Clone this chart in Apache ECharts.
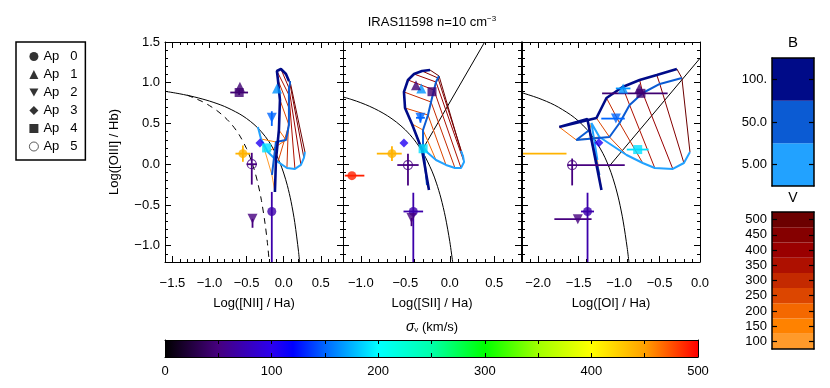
<!DOCTYPE html>
<html>
<head>
<meta charset="utf-8">
<title>IRAS11598</title>
<script src="https://cdn.jsdelivr.net/npm/echarts@6.0.0/dist/echarts.min.js"></script>
<style>
  html, body { margin: 0; padding: 0; background: #fff; }
  #chart { width: 830px; height: 388px; }
</style>
</head>
<body>
<div id="chart"></div>
<script>
const FONT = 'Liberation Sans'

// sigma_v colour table (km/s)
const sigmaStops = [0, 50, 100, 120, 150, 200, 250, 300, 350, 400, 450, 500]
const sigmaColors = ['#000000', '#46007f', '#2c00ee', '#0000ff', '#0066ff', '#00ffff', '#00ffaa', '#00ff00', '#a0ff00', '#ffff00', '#ffa000', '#ff0000']
const sigmaTicks = [0, 100, 200, 300, 400, 500]
const sigmaMinor = [0, 50, 100, 150, 200, 250, 300, 350, 400, 450, 500]

// shock grid colour bars
const bLabels = ['5.00', '50.0', '100.']
const bColors = ['#22a2ff', '#0b5bd3', '#000b88']
const bWidths = [2, 2, 2.6]
const vLabels = ['100', '150', '200', '250', '300', '350', '400', '450', '500']
const vColors = ['#ff9a2a', '#ff8200', '#f46800', '#dc4600', '#c42a00', '#ae1000', '#9a0000', '#850000', '#6c0000']

// apertures
const apNames = ['Ap   0', 'Ap   1', 'Ap   2', 'Ap   3', 'Ap   4', 'Ap   5']
const apSymbols = ['circle', 'triangle', 'path://M0,0L10,0L5,9Z', 'diamond', 'rect', 'circle']
const apSizes = [9, 10, 10, 9, 9, 9]

// axis ticks
const yMajor = [-1, -0.5, 0, 0.5, 1, 1.5]
const niiMajor = [-1.5, -1, -0.5, 0, 0.5]
const siiMajor = [-1, -0.5, 0, 0.5]
const oiMajor = [-2, -1.5, -1, -0.5, 0]

// [NII] panel points
const niiX = [-0.60, -0.59, -0.43, -0.55, -0.32, -0.23, -0.16, -0.09, -0.16, -0.42]
const niiY = [0.88, 0.95, 0.00, 0.13, 0.26, 0.20, 0.57, 0.93, -0.58, -0.67]
const niiXlo = [0.12, 0, 0.07, 0.10, 0, 0, 0, 0, 0, 0]
const niiXhi = [0.12, 0, 0.07, 0.10, 0, 0, 0, 0, 0, 0]
const niiYlo = [0.03, 0, 0.25, 0.10, 0, 0, 0.10, 0, 1.00, 0.11]
const niiYhi = [0.03, 0, 0.14, 0.10, 0, 0, 0.08, 0, 0.24, 0]
const niiAp = [4, 1, 5, 0, 3, 4, 2, 1, 0, 2]
const niiSig = [45, 45, 50, 440, 105, 190, 150, 165, 70, 50]

// [SII] panel points
const siiX = [-1.10, -0.65, -0.515, -0.47, -0.30, -0.33, -0.32, -0.38, -0.20, -0.41, -0.43]
const siiY = [-0.14, 0.13, 0.26, -0.01, 0.19, 0.57, 0.93, 0.97, 0.89, -0.58, -0.66]
const siiXlo = [0.08, 0.17, 0, 0.12, 0, 0.05, 0, 0, 0, 0.11, 0]
const siiXhi = [0.14, 0.11, 0, 0.12, 0, 0.05, 0, 0, 0, 0.11, 0]
const siiYlo = [0, 0.09, 0, 0.25, 0, 0.06, 0, 0, 0, 1.00, 0.10]
const siiYhi = [0, 0.09, 0, 0.14, 0, 0.06, 0, 0, 0, 0.23, 0]
const siiAp = [0, 0, 3, 5, 4, 2, 1, 1, 4, 0, 2]
const siiSig = [490, 440, 105, 50, 190, 150, 165, 45, 45, 70, 50]

// [OI] panel points
const oiX = [-2.50, -1.58, -1.25, -0.77, -1.04, -0.95, -0.75, -0.73, -1.39, -1.51]
const oiY = [0.13, -0.01, 0.265, 0.18, 0.56, 0.93, 0.93, 0.87, -0.58, -0.675]
const oiXlo = [0, 0.06, 0, 0.135, 0.18, 0.09, 0, 0.48, 0.08, 0.29]
const oiXhi = [0.85, 0.65, 0, 0.135, 0.11, 0.09, 0, 0.33, 0.08, 0.17]
const oiYlo = [0, 0.25, 0, 0, 0, 0, 0, 0, 1.00, 0]
const oiYhi = [0, 0.08, 0, 0, 0, 0, 0, 0, 0.23, 0]
const oiAp = [0, 5, 3, 4, 2, 1, 1, 4, 0, 2]
const oiSig = [440, 50, 105, 190, 150, 165, 45, 45, 70, 50]

// shock models, one value per V (100..500), for B = 5, 50, 100
const nB5X = [-0.347, -0.306, -0.212, -0.077, 0.044, 0.152, 0.233, 0.273, 0.287]
const nB5Y = [0.457, 0.310, 0.150, 0.028, -0.046, -0.058, -0.009, 0.077, 0.150]
const nB50X = [-0.158, -0.104, 0.031, 0.071, 0.071, 0.071, 0.071, 0.085, 0.085]
const nB50Y = [-0.132, 0.273, 0.298, 0.482, 0.690, 0.850, 0.936, 0.985, 1.021]
const nB100X = [-0.118, -0.104, -0.064, -0.050, -0.077, -0.091, -0.037, 0.031, 0.071]
const nB100Y = [-0.340, 0.052, 0.420, 0.788, 1.034, 1.144, 1.169, 1.107, 1.021]

const sB5X = [-0.301, -0.245, -0.155, -0.043, 0.058, 0.126, 0.160, 0.148, 0.126]
const sB5Y = [0.199, 0.138, 0.052, -0.009, -0.046, -0.046, 0.028, 0.101, 0.163]
const sB50X = [-0.256, -0.301, -0.301, -0.245, -0.211, -0.178, -0.155, -0.133, -0.121]
const sB50Y = [-0.255, 0.236, 0.420, 0.604, 0.764, 0.911, 1.009, 1.058, 1.083]
const sB100X = [-0.234, -0.312, -0.425, -0.503, -0.515, -0.470, -0.402, -0.312, -0.222]
const sB100Y = [-0.316, 0.175, 0.494, 0.690, 0.887, 1.034, 1.107, 1.144, 1.156]

const oB5X = [-1.268, -1.342, -1.243, -0.907, -0.708, -0.559, -0.336, -0.199, -0.124]
const oB5Y = [0.052, 0.506, 0.334, 0.113, 0.015, -0.046, -0.058, 0.015, 0.150]
const oB50X = [-1.243, -1.367, -1.529, -1.119, -0.994, -0.870, -0.708, -0.497, -0.224]
const oB50Y = [-0.132, 0.420, 0.298, 0.334, 0.506, 0.727, 0.874, 0.985, 1.058]
const oB100X = [-1.218, -1.392, -1.740, -1.280, -1.156, -0.957, -0.746, -0.534, -0.286]
const oB100Y = [-0.316, 0.555, 0.457, 0.567, 0.813, 0.948, 1.034, 1.095, 1.169]

// classification lines
const kewNiiX = [-1.6, -1.4, -1.2, -1.0, -0.8, -0.6, -0.5, -0.4, -0.3, -0.2, -0.1, -0.05, 0.0, 0.05, 0.1, 0.15, 0.2, 0.215]
const kewNiiY = [0.895, 0.864, 0.825, 0.775, 0.710, 0.620, 0.561, 0.489, 0.398, 0.280, 0.120, 0.017, -0.108, -0.262, -0.459, -0.716, -1.069, -1.202]
const kauNiiX = [-1.3, -1.1, -1.0, -0.9, -0.8, -0.7, -0.6, -0.5, -0.45, -0.4, -0.35, -0.3, -0.25, -0.22, -0.194]
const kauNiiY = [0.848, 0.770, 0.719, 0.658, 0.582, 0.487, 0.362, 0.191, 0.080, -0.056, -0.225, -0.443, -0.733, -0.959, -1.2]
const kewSiiX = [-1.2, -1.1, -1.0, -0.9, -0.8, -0.7, -0.6, -0.5, -0.4, -0.3, -0.2, -0.15, -0.1, -0.05, 0.0, 0.032]
const kewSiiY = [0.826, 0.793, 0.755, 0.710, 0.657, 0.594, 0.517, 0.422, 0.300, 0.139, -0.085, -0.232, -0.414, -0.646, -0.95, -1.2]
const seySiiX = [-0.315, 0.392]
const seySiiY = [0.165, 1.5]
const kewOiX = [-2.2, -2.0, -1.8, -1.6, -1.5, -1.4, -1.3, -1.2, -1.15, -1.1, -1.05, -1.0, -0.95, -0.9, -0.8785]
const kewOiY = [0.877, 0.812, 0.727, 0.607, 0.528, 0.429, 0.302, 0.133, 0.026, -0.101, -0.257, -0.450, -0.698, -1.025, -1.2]
const seyOiX = [-1.127, 0.0]
const seyOiY = [-0.03, 1.30]

const panels = [
  { left: 165, min: -1.6, max: 0.8, major: niiMajor, title: 'Log([NII] / Ha)',
    x: niiX, y: niiY, xlo: niiXlo, xhi: niiXhi, ylo: niiYlo, yhi: niiYhi, ap: niiAp, sig: niiSig,
    b: [[nB5X, nB5Y], [nB50X, nB50Y], [nB100X, nB100Y]],
    lines: [[kewNiiX, kewNiiY, 'solid'], [kauNiiX, kauNiiY, 'dashed']] },
  { left: 343, min: -1.2, max: 0.8, major: siiMajor, title: 'Log([SII] / Ha)',
    x: siiX, y: siiY, xlo: siiXlo, xhi: siiXhi, ylo: siiYlo, yhi: siiYhi, ap: siiAp, sig: siiSig,
    b: [[sB5X, sB5Y], [sB50X, sB50Y], [sB100X, sB100Y]],
    lines: [[kewSiiX, kewSiiY, 'solid'], [seySiiX, seySiiY, 'solid']] },
  { left: 522, min: -2.2, max: 0.0, major: oiMajor, title: 'Log([OI] / Ha)',
    x: oiX, y: oiY, xlo: oiXlo, xhi: oiXhi, ylo: oiYlo, yhi: oiYhi, ap: oiAp, sig: oiSig,
    b: [[oB5X, oB5Y], [oB50X, oB50Y], [oB100X, oB100Y]],
    lines: [[kewOiX, kewOiY, 'solid'], [seyOiX, seyOiY, 'solid']] }
]

function hex(c) {
  return [1, 3, 5].map(i => parseInt(c.substr(i, 2), 16))
}
function sigmaColor(s) {
  for (let i = 1; i < sigmaStops.length; i++) {
    if (s <= sigmaStops[i]) {
      const t = (s - sigmaStops[i - 1]) / (sigmaStops[i] - sigmaStops[i - 1])
      const a = hex(sigmaColors[i - 1]), b = hex(sigmaColors[i])
      return 'rgb(' + a.map((v, k) => Math.round(v + (b[k] - v) * t)).join(',') + ')'
    }
  }
  return sigmaColors[sigmaColors.length - 1]
}
function tenths(a, b) {
  const out = []
  for (let v = Math.round(a * 10); v <= Math.round(b * 10); v++) out.push(v / 10)
  return out
}
function fmt(v) {
  const s = Math.abs(v).toFixed(1)
  return v < -1e-9 ? '\u2212' + s : s
}

function tickAxis(grid, position, min, max, ticks, len, line) {
  return {
    type: 'value', gridIndex: grid, position: position, min: min, max: max, z: 10,
    axisLine: { show: line, onZero: false, lineStyle: { color: '#000', width: 1 } },
    axisTick: { show: true, inside: true, length: len, customValues: ticks, lineStyle: { color: '#000', width: 1 } },
    axisLabel: { show: false },
    splitLine: { show: false }
  }
}

const grids = []
const xAxes = []
const yAxes = []
const series = []
const yMinor = tenths(-1.2, 1.5)

panels.forEach((p, i) => {
  grids.push({ left: p.left, top: 42, width: 178, height: 220 })
  const xMinor = tenths(p.min, p.max)

  const xb = tickAxis(i, 'bottom', p.min, p.max, p.major, 6, true)
  xb.axisLabel = { show: true, customValues: p.major, formatter: fmt, margin: 15, fontSize: 13, color: '#000', fontFamily: FONT }
  xb.name = p.title
  xb.nameLocation = 'middle'
  xb.nameGap = 35
  xb.nameTextStyle = { fontSize: 13, color: '#000', fontFamily: FONT }
  xAxes.push(xb)
  xAxes.push(tickAxis(i, 'bottom', p.min, p.max, xMinor, 3, false))
  xAxes.push(tickAxis(i, 'top', p.min, p.max, p.major, 6, true))
  xAxes.push(tickAxis(i, 'top', p.min, p.max, xMinor, 3, false))

  const yl = tickAxis(i, 'left', -1.2, 1.5, yMajor, 6, true)
  if (i === 0) {
    yl.axisLabel = { show: true, customValues: yMajor, formatter: fmt, margin: 5, fontSize: 13, color: '#000', fontFamily: FONT }
    yl.name = 'Log([OIII] / Hb)'
    yl.nameLocation = 'middle'
    yl.nameGap = 44
    yl.nameTextStyle = { fontSize: 13, color: '#000', fontFamily: FONT }
  }
  yAxes.push(yl)
  yAxes.push(tickAxis(i, 'left', -1.2, 1.5, yMinor, 3, false))
  yAxes.push(tickAxis(i, 'right', -1.2, 1.5, yMajor, 6, true))
  yAxes.push(tickAxis(i, 'right', -1.2, 1.5, yMinor, 3, false))

  const xi = i * 4, yi = i * 4

  // classification curves
  p.lines.forEach(l => {
    series.push({
      type: 'line', xAxisIndex: xi, yAxisIndex: yi, symbol: 'none', silent: true, z: 2,
      smooth: l[0].length > 2 ? 0.3 : false,
      lineStyle: { color: '#000', width: 1, type: l[2] === 'dashed' ? [6, 5] : 'solid' },
      data: l[0].map((v, k) => [v, l[1][k]])
    })
  })

  // constant-V lines
  vLabels.forEach((v, k) => {
    series.push({
      type: 'line', xAxisIndex: xi, yAxisIndex: yi, symbol: 'none', silent: true, z: 3,
      lineStyle: { color: vColors[k], width: 1 },
      data: p.b.map(bb => [bb[0][k], bb[1][k]])
    })
  })

  // constant-B lines
  p.b.forEach((bb, k) => {
    series.push({
      type: 'line', xAxisIndex: xi, yAxisIndex: yi, symbol: 'none', silent: true, z: 4,
      lineStyle: { color: bColors[k], width: bWidths[k] },
      data: bb[0].map((v, m) => [v, bb[1][m]])
    })
  })

  // error bars
  series.push({
    type: 'custom', xAxisIndex: xi, yAxisIndex: yi, clip: true, silent: true, z: 5,
    encode: { x: 0, y: 1 },
    data: p.x.map((v, k) => [v, p.y[k], p.xlo[k], p.xhi[k], p.ylo[k], p.yhi[k], p.sig[k]]),
    renderItem: function (params, api) {
      const x = api.value(0), y = api.value(1)
      const style = { stroke: sigmaColor(api.value(6)), lineWidth: 1.8 }
      const kids = []
      if (api.value(2) || api.value(3)) {
        const a = api.coord([x - api.value(2), y]), b = api.coord([x + api.value(3), y])
        kids.push({ type: 'line', shape: { x1: a[0], y1: a[1], x2: b[0], y2: b[1] }, style: style })
      }
      if (api.value(4) || api.value(5)) {
        const a = api.coord([x, y - api.value(4)]), b = api.coord([x, y + api.value(5)])
        kids.push({ type: 'line', shape: { x1: a[0], y1: a[1], x2: b[0], y2: b[1] }, style: style })
      }
      return { type: 'group', children: kids }
    }
  })

  // points
  series.push({
    type: 'scatter', xAxisIndex: xi, yAxisIndex: yi, silent: true, z: 6,
    data: p.x.map((v, k) => {
      const ap = p.ap[k]
      const c = sigmaColor(p.sig[k])
      return {
        value: [v, p.y[k]],
        symbol: apSymbols[ap],
        symbolSize: apSizes[ap],
        itemStyle: ap === 5
          ? { color: 'rgba(0,0,0,0)', borderColor: c, borderWidth: 1.2 }
          : { color: c }
      }
    })
  })
})

// legend entries (empty series carrying the aperture symbols)
apNames.forEach((n, k) => {
  series.push({ type: 'scatter', name: n, xAxisIndex: 0, yAxisIndex: 0, data: [], symbol: apSymbols[k],
    itemStyle: k === 5 ? { color: '#fff', borderColor: '#000', borderWidth: 0.8 } : { color: '#000' } })
})

// sigma colour bar (grid 3)
grids.push({ left: 165, top: 340, width: 533, height: 17 })
const sx = tickAxis(3, 'bottom', 0, 500, sigmaMinor, 4, true)
sx.axisLabel = { show: true, customValues: sigmaTicks, margin: 8, fontSize: 13, color: '#000', fontFamily: FONT }
xAxes.push(sx)
xAxes.push(tickAxis(3, 'top', 0, 500, sigmaMinor, 4, true))
yAxes.push(tickAxis(3, 'left', 0, 1, [], 0, true))
yAxes.push(tickAxis(3, 'right', 0, 1, [], 0, true))
series.push({
  type: 'custom', xAxisIndex: 12, yAxisIndex: 12, silent: true, z: 1,
  data: [[sigmaStops[0], sigmaStops[sigmaStops.length - 1]]],
  renderItem: function (params, api) {
    const a = api.coord([api.value(0), 1]), b = api.coord([api.value(1), 0])
    const top = sigmaStops[sigmaStops.length - 1]
    return {
      type: 'rect',
      shape: { x: a[0], y: a[1], width: b[0] - a[0], height: b[1] - a[1] },
      style: { fill: new echarts.graphic.LinearGradient(0, 0, 1, 0, sigmaStops.map((s, i) => ({ offset: s / top, color: sigmaColors[i] }))) }
    }
  }
})

// B and V colour bars (grids 4, 5)
function barAxes(grid, labels, fontSize) {
  const flat = { type: 'value', gridIndex: grid, min: 0, max: 1, z: 10,
    axisLine: { show: true, onZero: false, lineStyle: { color: '#000', width: 1.5 } },
    axisTick: { show: false }, axisLabel: { show: false }, splitLine: { show: false } }
  xAxes.push(Object.assign({ position: 'bottom' }, flat))
  xAxes.push(Object.assign({ position: 'top' }, flat))
  const cat = pos => ({
    type: 'category', gridIndex: grid, position: pos, data: labels, z: 10,
    axisLine: { show: true, onZero: false, lineStyle: { color: '#000', width: 1.5 } },
    axisTick: { show: true, inside: true, length: 5, alignWithLabel: true, interval: 0, lineStyle: { color: '#000', width: 1.2 } },
    axisLabel: { show: pos === 'left', interval: 0, margin: 5, fontSize: fontSize, color: '#000', fontFamily: FONT },
    splitLine: { show: false }
  })
  yAxes.push(cat('left'))
  yAxes.push(cat('right'))
}
grids.push({ left: 772, top: 58, width: 42, height: 128 })
barAxes(4, bLabels, 13)
grids.push({ left: 772, top: 212, width: 42, height: 137 })
barAxes(5, vLabels, 13)
series.push({
  type: 'bar', xAxisIndex: 14, yAxisIndex: 14, silent: true, barWidth: '100%', barCategoryGap: 0,
  data: bLabels.map((l, i) => ({ value: 1, itemStyle: { color: bColors[i] } }))
})
series.push({
  type: 'bar', xAxisIndex: 16, yAxisIndex: 16, silent: true, barWidth: '100%', barCategoryGap: 0,
  data: vLabels.map((l, i) => ({ value: 1, itemStyle: { color: vColors[i] } }))
})

const chart = echarts.init(document.getElementById('chart'))
chart.setOption({
  animation: false,
  backgroundColor: '#fff',
  textStyle: { fontFamily: FONT },
  grid: grids,
  xAxis: xAxes,
  yAxis: yAxes,
  legend: {
    orient: 'vertical', left: 16, top: 42, selectedMode: false,
    padding: [8, 8, 7, 13], itemGap: 5, itemWidth: 9, itemHeight: 9,
    borderColor: '#000', borderWidth: 1.5,
    textStyle: { fontSize: 13, color: '#000', fontFamily: FONT },
    data: apNames.map((n, k) => k === 5
      ? { name: n, itemStyle: { color: '#fff', borderColor: '#000', borderWidth: 0.8 } }
      : { name: n })
  },
  graphic: [
    { type: 'text', x: 432, y: 22, style: { text: '{a|IRAS11598 n=10 cm}{s|\u22123}', align: 'center', verticalAlign: 'middle',
      rich: { a: { fontSize: 13, fontFamily: FONT, fill: '#000' }, s: { fontSize: 8, fontFamily: FONT, fill: '#000', verticalAlign: 'top', padding: [0, 0, 6, 0] } } } },
    { type: 'text', x: 432, y: 327, style: { text: '{g|\u03c3}{v|v}{t| (km/s)}', align: 'center', verticalAlign: 'middle',
      rich: { g: { fontSize: 14, fontStyle: 'italic', fontFamily: FONT, fill: '#000' }, v: { fontSize: 8, fontFamily: FONT, fill: '#000', verticalAlign: 'bottom', padding: [6, 0, 0, 0] }, t: { fontSize: 13, fontFamily: FONT, fill: '#000' } } } },
    { type: 'text', x: 793, y: 43, style: { text: 'B', fontSize: 15, fontFamily: FONT, fill: '#000', align: 'center', verticalAlign: 'middle' } },
    { type: 'text', x: 793, y: 198, style: { text: 'V', fontSize: 14, fontFamily: FONT, fill: '#000', align: 'center', verticalAlign: 'middle' } }
  ],
  series: series
})
</script>
</body>
</html>
